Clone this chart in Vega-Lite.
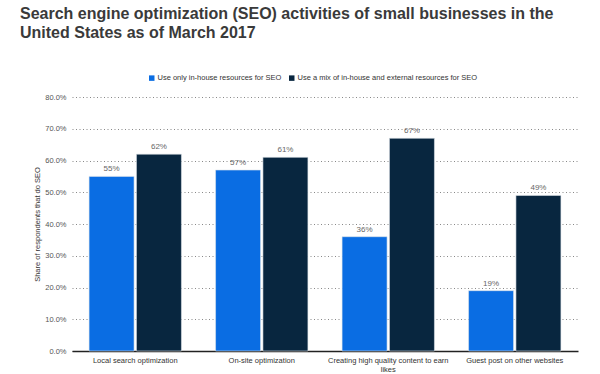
{
  "$schema": "https://vega.github.io/schema/vega-lite/v6.json",
  "autosize": "none",
  "width": 506,
  "height": 254,
  "padding": {"left": 72, "top": 97, "right": 22, "bottom": 23},
  "background": "white",
  "view": {"stroke": null},
  "title": {
    "text": ["Search engine optimization (SEO) activities of small businesses in the", "United States as of March 2017"],
    "anchor": "start",
    "frame": "group",
    "dx": -52,
    "offset": 33,
    "font": "Liberation Sans",
    "fontSize": 16,
    "fontWeight": "bold",
    "color": "#3a3a3a",
    "lineHeight": 19
  },
  "data": {
    "values": [
      {"activity": "Local search optimization", "series": "Use only in-house resources for SEO", "share": 0.55},
      {"activity": "Local search optimization", "series": "Use a mix of in-house and external resources for SEO", "share": 0.62},
      {"activity": "On-site optimization", "series": "Use only in-house resources for SEO", "share": 0.57},
      {"activity": "On-site optimization", "series": "Use a mix of in-house and external resources for SEO", "share": 0.61},
      {"activity": "Creating high quality content to earn likes", "series": "Use only in-house resources for SEO", "share": 0.36},
      {"activity": "Creating high quality content to earn likes", "series": "Use a mix of in-house and external resources for SEO", "share": 0.67},
      {"activity": "Guest post on other websites", "series": "Use only in-house resources for SEO", "share": 0.19},
      {"activity": "Guest post on other websites", "series": "Use a mix of in-house and external resources for SEO", "share": 0.49}
    ]
  },
  "encoding": {
    "x": {
      "field": "activity",
      "type": "nominal",
      "sort": null,
      "scale": {"paddingInner": 0.27, "paddingOuter": 0.135},
      "axis": {
        "title": null,
        "labelAngle": 0,
        "labelFont": "Liberation Sans",
        "labelFontSize": 7.5,
        "labelColor": "#333",
        "labelPadding": 5,
        "labelLimit": 200,
        "ticks": false,
        "domainColor": "#222",
        "domainWidth": 1.5,
        "labelExpr": "datum.label == 'Creating high quality content to earn likes' ? ['Creating high quality content to earn', 'likes'] : datum.label"
      }
    },
    "xOffset": {
      "field": "series",
      "type": "nominal",
      "sort": ["Use only in-house resources for SEO", "Use a mix of in-house and external resources for SEO"],
      "scale": {"paddingInner": 0.05}
    },
    "y": {
      "field": "share",
      "type": "quantitative",
      "scale": {"domain": [0, 0.8]},
      "axis": {
        "title": "Share of respondents that do SEO",
        "titleFont": "Liberation Sans",
        "titleFontSize": 7.5,
        "titleFontWeight": "normal",
        "titleColor": "#333",
        "titlePadding": 3,
        "format": ".1%",
        "values": [0, 0.1, 0.2, 0.3, 0.4, 0.5, 0.6, 0.7, 0.8],
        "labelOverlap": false,
        "labelFont": "Liberation Sans",
        "labelFontSize": 7.5,
        "labelColor": "#555",
        "labelPadding": 6,
        "domain": false,
        "ticks": false,
        "gridColor": "#888",
        "gridDash": [1, 2.5],
        "gridWidth": 1
      }
    }
  },
  "layer": [
    {
      "mark": {"type": "bar", "stroke": "#dde4ea", "strokeWidth": 0.6},
      "encoding": {
        "color": {
          "field": "series",
          "type": "nominal",
          "sort": ["Use only in-house resources for SEO", "Use a mix of in-house and external resources for SEO"],
          "scale": {"range": ["#0a6de3", "#08263f"]},
          "legend": {
            "title": null,
            "orient": "none",
            "direction": "horizontal",
            "legendX": 76,
            "legendY": -23,
            "symbolType": "square",
            "symbolSize": 30,
            "symbolStrokeWidth": 0,
            "labelFont": "Liberation Sans",
            "labelFontSize": 7.5,
            "labelColor": "#333",
            "labelOffset": 2,
            "columnPadding": 6,
            "labelLimit": 300
          }
        }
      }
    },
    {
      "mark": {"type": "text", "dy": -7, "font": "Liberation Sans", "fontSize": 8, "color": "#666"},
      "encoding": {
        "text": {"field": "share", "type": "quantitative", "format": ".0%"}
      }
    }
  ]
}
